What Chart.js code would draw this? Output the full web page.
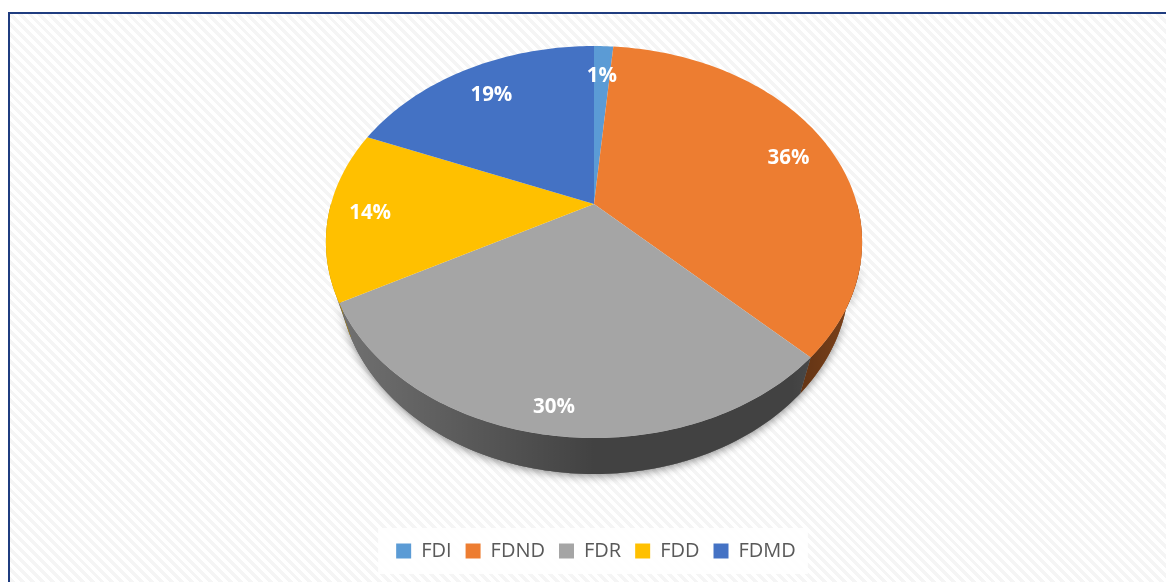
<!DOCTYPE html>
<html lang="en">

<head>
    <meta charset="UTF-8">
    <title>FD pie</title>
    <style>
        html, body {
            margin: 0;
            background: #fff;
            overflow: hidden;
        }

        #frame {
            position: absolute;
            left: 8px;
            top: 12px;
            width: 1160px;
            height: 572px;
            border-left: 2px solid #1f3c7f;
            border-top: 2px solid #1f3c7f;
            background: repeating-linear-gradient(45deg, #fff 0 3.5px, #f5f5f5 3.5px 7px);
        }

        canvas {
            position: absolute;
            left: 0;
            top: 0;
        }
    </style>
    <script src="https://cdn.jsdelivr.net/npm/chart.js"></script>
</head>

<body>
    <div id="frame"></div>
    <canvas id="pie" width="1166" height="582"></canvas>

    <script>
        const categories = ["FDI", "FDND", "FDR", "FDD", "FDMD"];
        const shares = [1.4, 36, 29.7, 14.1, 18.8];
        const sliceColors = ["#5b9bd5", "#ed7d31", "#a5a5a5", "#ffc000", "#4472c4"];
        // how far out along the radius each percent label sits, and a small turn off the slice middle
        const labelReach = [0.79, 0.82, 0.895, 0.845, 0.79];
        const labelTurn = [0, 0.027, 0, 0, 0];

        // perspective of the tilted disc, apex is not in the middle of the ellipse
        const cx = 594, cy = 204, R = 263, S = 188.6, k = 0.194;
        const depth = 36, bottomScale = 255 / 268;

        function project(u, v) {
            const w = 1 - k * v;
            return { x: cx + R * u / w, y: cy + S * v / w };
        }

        function rim(a) {
            return project(Math.cos(a), Math.sin(a));
        }

        function bottom(a) {
            const p = rim(a);
            return { x: cx + (p.x - cx) * bottomScale, y: p.y + depth };
        }

        function trace(ctx, fn, from, to) {
            const steps = Math.max(2, Math.ceil(Math.abs(to - from) * 60));
            for (let i = 0; i <= steps; i++) {
                const p = fn(from + (to - from) * i / steps);
                ctx.lineTo(p.x, p.y);
            }
        }

        function wallPath(ctx, a, b) {
            ctx.beginPath();
            trace(ctx, rim, a, b);
            trace(ctx, bottom, b, a);
            ctx.closePath();
        }

        const pie3d = {
            id: "pie3d",
            beforeDraw(chart) {
                // white plate behind the legend
                const boxes = chart.legend.legendHitBoxes;
                const last = boxes[boxes.length - 1];
                const ctx = chart.ctx;
                ctx.save();
                ctx.fillStyle = "rgba(255,255,255,0.88)";
                ctx.fillRect(boxes[0].left - 18, boxes[0].top - 13, last.left + last.width - boxes[0].left + 30, boxes[0].height + 26);
                ctx.restore();
            },
            beforeDatasetDraw(chart) {
                const ctx = chart.ctx;
                const arcs = chart.getDatasetMeta(0).data;
                const front = arcs.map(arc => {
                    const a = arc.getProps(["startAngle", "endAngle"]);
                    return { from: Math.max(a.startAngle, 0), to: Math.min(a.endAngle, Math.PI) };
                });

                ctx.save();

                // soft shadow under the visible part of the side wall
                ctx.save();
                ctx.shadowColor = "rgba(0,0,0,0.45)";
                ctx.shadowBlur = 9;
                ctx.shadowOffsetY = 2;
                ctx.fillStyle = "#444";
                wallPath(ctx, 0.3, Math.PI - 0.45);
                ctx.fill();
                ctx.restore();

                // side wall, slice colour darkened across the width
                const shade = ctx.createLinearGradient(326, 0, 862, 0);
                shade.addColorStop(0, "rgba(0,0,0,0.3)");
                shade.addColorStop(0.2, "rgba(0,0,0,0.42)");
                shade.addColorStop(0.5, "rgba(0,0,0,0.6)");
                shade.addColorStop(0.87, "rgba(0,0,0,0.6)");
                shade.addColorStop(1, "rgba(0,0,0,0.46)");
                front.forEach((f, i) => {
                    if (f.to <= f.from) return;
                    wallPath(ctx, f.from, f.to);
                    ctx.fillStyle = sliceColors[i];
                    ctx.fill();
                    ctx.fillStyle = shade;
                    ctx.fill();
                });

                // top face
                arcs.forEach((arc, i) => {
                    const a = arc.getProps(["startAngle", "endAngle"]);
                    const apex = project(0, 0);
                    ctx.beginPath();
                    ctx.moveTo(apex.x, apex.y);
                    trace(ctx, rim, a.startAngle, a.endAngle);
                    ctx.closePath();
                    ctx.fillStyle = sliceColors[i];
                    ctx.fill();
                });

                // percent labels
                ctx.fillStyle = "#fff";
                ctx.font = "700 20.5px 'Open Sans'";
                ctx.textAlign = "center";
                ctx.textBaseline = "middle";
                arcs.forEach((arc, i) => {
                    const a = arc.getProps(["startAngle", "endAngle"]);
                    const mid = (a.startAngle + a.endAngle) / 2 + labelTurn[i];
                    const p = project(Math.cos(mid) * labelReach[i], Math.sin(mid) * labelReach[i]);
                    ctx.fillText(Math.round(shares[i]) + "%", p.x, p.y + 1);
                });

                ctx.restore();
                return false;
            }
        };

        new Chart(document.getElementById("pie"), {
            type: "pie",
            data: {
                labels: categories,
                datasets: [{
                    data: shares,
                    backgroundColor: sliceColors,
                    borderWidth: 0
                }]
            },
            options: {
                responsive: false,
                animation: false,
                layout: { padding: { left: 26, bottom: 11 } },
                plugins: {
                    tooltip: { enabled: false },
                    legend: {
                        position: "bottom",
                        labels: {
                            boxWidth: 15,
                            boxHeight: 15,
                            padding: 14,
                            color: "#595959",
                            font: { family: "'Open Sans'", size: 20 }
                        }
                    }
                }
            },
            plugins: [pie3d]
        });
    </script>
</body>

</html>
